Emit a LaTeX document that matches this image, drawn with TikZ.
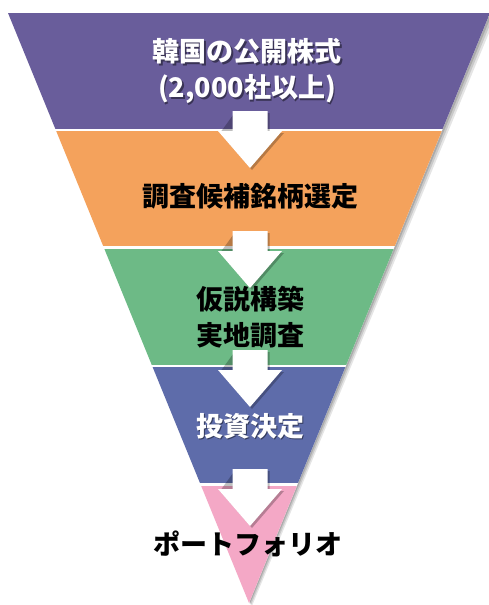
\documentclass[tikz,border=0pt]{standalone}
\usepackage{fontspec}
\newfontfamily\jpfont{Noto Sans CJK JP}
\usetikzlibrary{calc}

\definecolor{bandpurple}{RGB}{105,93,155}
\definecolor{bandorange}{RGB}{244,162,92}
\definecolor{bandgreen}{RGB}{109,186,134}
\definecolor{bandblue}{RGB}{94,108,170}
\definecolor{bandpink}{RGB}{244,168,198}

\tikzset{
  lbl/.style={font=\jpfont\bfseries\fontsize{27}{36}\selectfont, align=center, inner sep=0pt},
  lblw/.style={lbl, text=white},
  lblshade/.style={lbl, text=black, opacity=.45},
  flowarrow/.pic={
    \fill[black, opacity=.25] (-15.5,-18) -- (19.5,-18) -- (19.5,2) -- (34,2) -- (2,39) -- (-30,2) -- cycle;
    \fill[white] (-17.5,-20) -- (17.5,-20) -- (17.5,0) -- (32,0) -- (0,37) -- (-32,0) -- (-17.5,0) -- cycle;
  }
}

\begin{document}
\begin{tikzpicture}[x=1pt, y=-1pt]
  \fill[white] (0,0) rectangle (489,605);
  \useasboundingbox (0,0) rectangle (489,605);

  \coordinate (tl) at (8,13);
  \coordinate (tr) at (490,13);
  \coordinate (ap) at (249,603);

  % soft shadow of the funnel
  \foreach \d/\o in {6/.10, 4/.12, 2/.15}
    \fill[black, opacity=\o] ($(tl)+(\d,\d/2)$) -- ($(tr)+(\d,\d/2)$) -- ($(ap)+(\d/2,\d/2)$) -- cycle;

  % bands
  \begin{scope}
    \clip (tl) -- (tr) -- (ap) -- cycle;
    \fill[white] (0,0) rectangle (489,605);
    \fill[bandpurple] (0,13) rectangle (489,128.5);
    \fill[bandorange] (0,131) rectangle (489,245.5);
    \fill[bandgreen] (0,248.5) rectangle (489,364.5);
    \fill[bandblue] (0,367) rectangle (489,483);
    \fill[bandpink] (0,485.5) rectangle (489,605);
  \end{scope}

  % arrows between the bands
  \pic at (250,131) {flowarrow};
  \pic at (250,251) {flowarrow};
  \pic at (250,370) {flowarrow};
  \pic at (250,489) {flowarrow};

  % labels
  \node[lblshade] (stock-s) at (248.5,72.5) {韓国の公開株式\\(2,000社以上)};
  \node[lblw] (stock) at (247,71) {韓国の公開株式\\(2,000社以上)};
  \node[lbl] (select) at (250,196) {調査候補銘柄選定};
  \node[lbl] (survey) at (250,317) {仮説構築\\実地調査};
  \node[lblshade] (invest-s) at (251.5,427.5) {投資決定};
  \node[lblw] (invest) at (250,426) {投資決定};
  \node[lbl] (pf) at (248,544) {ポートフォリオ};
\end{tikzpicture}
\end{document}
